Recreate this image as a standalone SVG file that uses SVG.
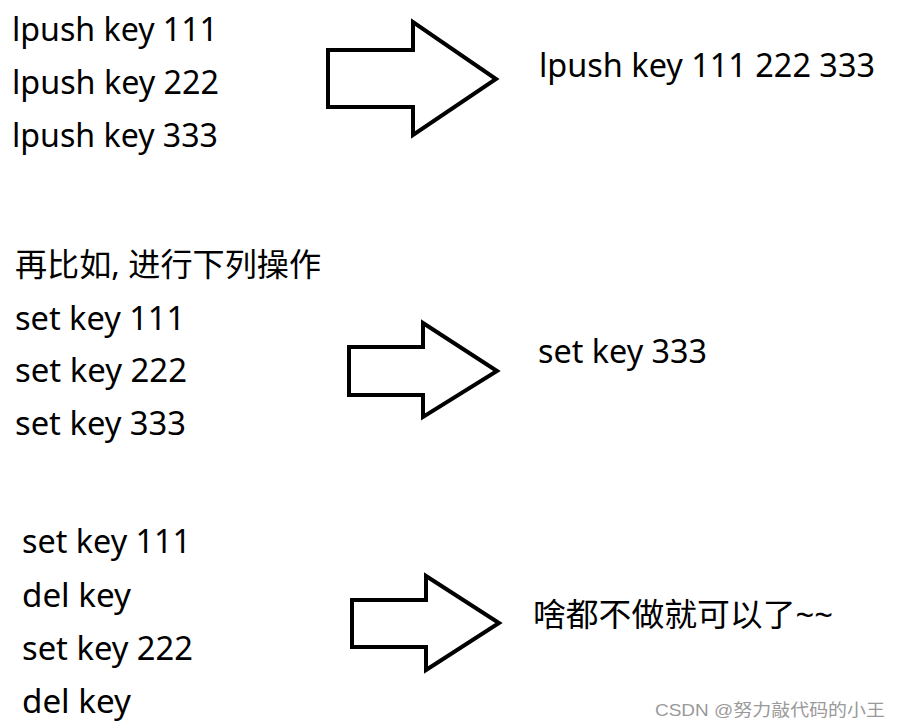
<svg xmlns="http://www.w3.org/2000/svg" width="902" height="728" viewBox="0 0 902 728">
<style>
.t{font-family:"Noto Sans","Noto Sans CJK SC",sans-serif;font-size:32px;fill:#000}
.w{font-family:"Liberation Sans","Noto Sans CJK SC",sans-serif;font-size:17px;fill:#9a9a9a}
.a{fill:#fff;stroke:#000;stroke-width:4;stroke-linejoin:miter}
</style>
<rect width="902" height="728" fill="#fff"/>
<g id="left1">
<text class="t" x="12" y="41" textLength="206" lengthAdjust="spacingAndGlyphs">lpush key 111</text>
<text class="t" x="12" y="94" textLength="207" lengthAdjust="spacingAndGlyphs">lpush key 222</text>
<text class="t" x="12" y="147" textLength="206" lengthAdjust="spacingAndGlyphs">lpush key 333</text>
</g>
<g id="right1">
<text class="t" x="539" y="77" textLength="336" lengthAdjust="spacingAndGlyphs">lpush key 111 222 333</text>
</g>
<g id="left2">
<text class="t" x="15" y="276" textLength="306" lengthAdjust="spacingAndGlyphs">再比如, 进行下列操作</text>
<text class="t" x="15" y="330" textLength="170" lengthAdjust="spacingAndGlyphs">set key 111</text>
<text class="t" x="15" y="382" textLength="172" lengthAdjust="spacingAndGlyphs">set key 222</text>
<text class="t" x="15" y="435" textLength="171" lengthAdjust="spacingAndGlyphs">set key 333</text>
</g>
<g id="right2">
<text class="t" x="538" y="363" textLength="169" lengthAdjust="spacingAndGlyphs">set key 333</text>
</g>
<g id="left3">
<text class="t" x="22" y="553" textLength="169" lengthAdjust="spacingAndGlyphs">set key 111</text>
<text class="t" x="22" y="607" textLength="109" lengthAdjust="spacingAndGlyphs">del key</text>
<text class="t" x="22" y="660" textLength="171" lengthAdjust="spacingAndGlyphs">set key 222</text>
<text class="t" x="22" y="713" textLength="109" lengthAdjust="spacingAndGlyphs">del key</text>
</g>
<g id="right3">
<text class="t" x="533" y="626" textLength="300" lengthAdjust="spacingAndGlyphs">啥都不做就可以了~~</text>
</g>
<g id="connectors">
<polygon class="a" points="328,50 413,50 413,22 496,79 413,135 413,107 328,107"/>
<polygon class="a" points="349,347 423,347 423,323 497,371 423,417 423,395 349,395"/>
<polygon class="a" points="352,600 426,600 426,576 499,623 426,670 426,647 352,647"/>
</g>
<text class="w" x="655" y="716" textLength="230" lengthAdjust="spacingAndGlyphs">CSDN @努力敲代码的小王</text>
</svg>
